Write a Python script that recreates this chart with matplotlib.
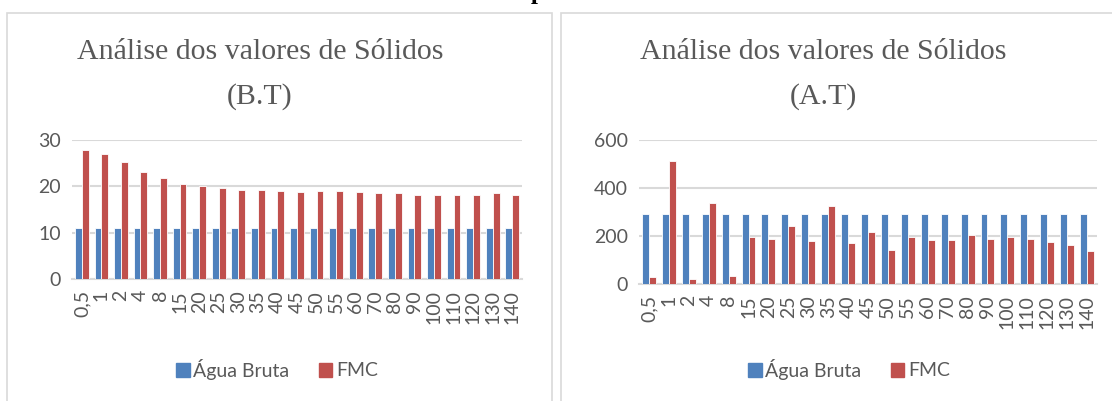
import matplotlib
matplotlib.use('Agg')
import matplotlib.pyplot as plt
from matplotlib.patches import Rectangle, Patch
import numpy as np

categorias = ['0,5', '1', '2', '4', '8', '15', '20', '25', '30', '35', '40', '45',
              '50', '55', '60', '70', '80', '90', '100', '110', '120', '130', '140']
# Gráfico B.T
bt_agua = [10.9] * 23
bt_fmc = [27.8, 27.0, 25.3, 23.2, 21.7, 20.4, 20.1, 19.6, 19.2, 19.2, 19.0, 18.8,
          18.9, 18.9, 18.8, 18.5, 18.5, 18.1, 18.1, 18.1, 18.1, 18.5, 18.1]
# Gráfico A.T
at_agua = [290] * 23
at_fmc = [29, 512, 20, 339, 35, 197, 187, 242, 178, 324, 170, 215,
          143, 194, 182, 183, 203, 187, 197, 187, 176, 162, 136]

AZUL = '#4F81BD'
VERM = '#C0504D'
CINZA = '#595959'
GRADE = '#D9D9D9'

fig = plt.figure(figsize=(11.12, 4.01), dpi=100)
W, H = 1112, 401

def fx(px): return px / W
def fy(py): return 1 - py / H

# legenda do documento (cortada no topo, só o pé das letras aparece)
fig.text(fx(17), fy(-1.5), 'Gráficos 16 e 17 - Análise dos valores de Sólidos para a FMC 1',
         family='Liberation Serif', fontsize=18, fontweight='bold', color='black',
         ha='left', va='baseline')

# molduras dos gráficos
for x0, x1 in [(7, 552), (561, 1120)]:
    fig.patches.append(Rectangle((fx(x0), fy(420)), fx(x1 - x0), (420 - 13) / H,
                                 transform=fig.transFigure, fill=False,
                                 edgecolor=GRADE, lw=1.2))

def painel(rect, agua, fmc, ymax, ystep, titulo, tcx, legx):
    ax = fig.add_axes(rect)
    x = np.arange(len(categorias))
    w = 0.35
    ax.bar(x - w / 2, agua, w, color=AZUL, edgecolor='white', lw=0.6, zorder=3)
    ax.bar(x + w / 2, fmc, w, color=VERM, edgecolor='white', lw=0.6, zorder=3)
    ax.set_xlim(-0.5, len(categorias) - 0.5)
    ax.set_ylim(0, ymax)
    ax.set_yticks(np.arange(0, ymax + 1, ystep))
    ax.set_xticks(x)
    ax.set_xticklabels(categorias, rotation=90, family='Lato', fontsize=14, color=CINZA)
    for t in ax.get_yticklabels():
        t.set_family('Lato'); t.set_fontsize(14); t.set_color(CINZA)
    ax.tick_params(length=0, pad=8)
    ax.grid(axis='y', color=GRADE, lw=1.5, zorder=0)
    for s in ['top', 'right', 'left']:
        ax.spines[s].set_visible(False)
    ax.spines['bottom'].set_color(GRADE)
    ax.spines['bottom'].set_linewidth(1.5)
    fig.text(fx(tcx), fy(52), 'Análise dos valores de Sólidos', family='Liberation Serif',
             fontsize=21.5, color=CINZA, ha='center', va='center')
    fig.text(fx(tcx), fy(97), titulo, family='Liberation Serif',
             fontsize=21.5, color=CINZA, ha='center', va='center')
    h = [Patch(color=AZUL, label='Água Bruta'), Patch(color=VERM, label='FMC')]
    leg = ax.legend(handles=h, loc='center', bbox_to_anchor=(fx(legx), fy(369)),
                    bbox_transform=fig.transFigure, ncol=2, frameon=False,
                    handlelength=0.7, handleheight=0.7, handletextpad=0.2,
                    columnspacing=1.5, prop={'family': 'Lato', 'size': 14})
    for t in leg.get_texts():
        t.set_color(CINZA)
    return ax

painel([fx(72), fy(279), fx(522 - 72), (279 - 140) / H], bt_agua, bt_fmc, 30, 10,
       '(B.T)', 260, 277)
painel([fx(639), fy(284), fx(1097 - 639), (284 - 140) / H], at_agua, at_fmc, 600, 200,
       '(A.T)', 823, 849)

fig.savefig('out.png', dpi=100, facecolor='white')
